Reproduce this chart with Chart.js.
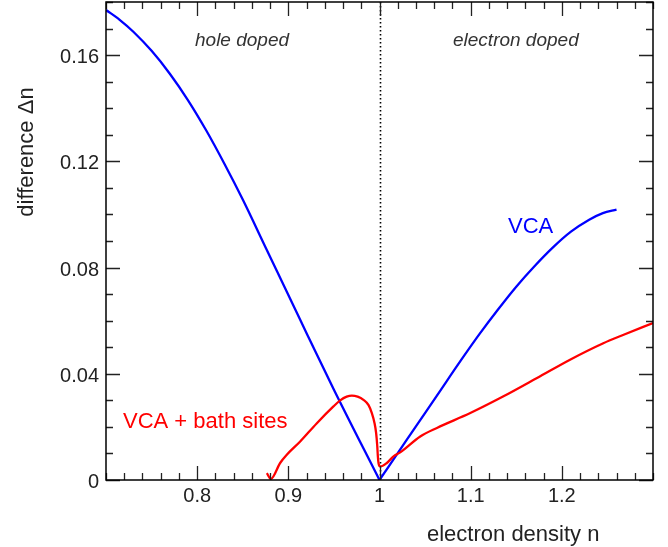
<!DOCTYPE html>
<html>
<head>
<meta charset="utf-8">
<script src="https://cdn.jsdelivr.net/npm/chart.js@4.4.1/dist/chart.umd.min.js"></script>
<style>
  html, body { margin: 0; padding: 0; background: #fff; }
  #wrap { width: 668px; height: 547px; position: relative; }
</style>
</head>
<body>
<div id="wrap"><canvas id="dnChart"></canvas></div>
<script>
// ---- data ----
// VCA, hole doped branch (n < 1)
const vcaHoleN  = [0.700, 0.715, 0.730, 0.750, 0.770, 0.790, 0.810, 0.830, 0.850, 0.876, 0.913, 0.950, 1.000];
const vcaHoleDn = [0.177, 0.1733, 0.1688, 0.1616, 0.1530, 0.1430, 0.1316, 0.1190, 0.1056, 0.0869, 0.0603, 0.0340, 0.000];
// VCA, electron doped branch (n > 1)
const vcaElecN  = [1.000, 1.030, 1.063, 1.090, 1.110, 1.130, 1.150, 1.170, 1.190, 1.210, 1.230, 1.245, 1.260];
const vcaElecDn = [0.000, 0.0152, 0.0318, 0.0454, 0.0551, 0.0642, 0.0728, 0.0805, 0.0875, 0.0935, 0.0980, 0.1005, 0.1018];
// VCA + bath sites
const bathN  = [0.8764, 0.8808, 0.891, 0.8983, 0.913, 0.9313, 0.9495, 0.9569, 0.964, 0.9697, 0.976, 0.9824, 0.988, 0.9916,
                0.9945, 0.9963, 0.9975, 0.9982, 0.999, 1.0008, 1.008, 1.0154, 1.0227, 1.0447, 1.063, 1.0996, 1.136,
                1.1728, 1.209, 1.2455, 1.2678, 1.300];
const bathDn = [0.0026, 0.0004, 0.0064, 0.0095, 0.0145, 0.0214, 0.0277, 0.0300, 0.0314, 0.0318, 0.0314, 0.0302, 0.0282, 0.0252,
                0.0215, 0.0177, 0.0130, 0.0089, 0.0062, 0.0051, 0.0064, 0.0089, 0.0104, 0.0164, 0.0196, 0.0252, 0.0315,
                0.0384, 0.0453, 0.0515, 0.0547, 0.0591];

// axis ticks
const xTickVals   = [0.8, 0.9, 1, 1.1, 1.2];
const xTickLabels = ['0.8', '0.9', '1', '1.1', '1.2'];
const yTickVals   = [0, 0.04, 0.08, 0.12, 0.16];
const yTickLabels = ['0', '0.04', '0.08', '0.12', '0.16'];

const pts = (xs, ys) => xs.map((x, i) => ({ x: x, y: ys[i] }));
const FONT = '"Liberation Sans", Arial, Helvetica, sans-serif';

// frame, inward ticks on all sides, labels and annotations
const framePlugin = {
  id: 'frame',
  beforeDatasetsDraw(chart) {
    const { ctx, chartArea: a, scales: { x } } = chart;
    const px = Math.round(x.getPixelForValue(1)) + 0.5;
    ctx.save();
    ctx.strokeStyle = '#000';
    ctx.lineWidth = 1.6;
    ctx.setLineDash([1.6, 2.4]);
    ctx.beginPath();
    ctx.moveTo(px, a.top);
    ctx.lineTo(px, a.bottom);
    ctx.stroke();
    ctx.restore();
  },
  afterDatasetsDraw(chart) {
    const { ctx, chartArea: a, scales: { x, y } } = chart;
    ctx.save();
    ctx.strokeStyle = '#222';
    ctx.lineWidth = 1.3;
    ctx.beginPath();
    // x minor ticks every 0.02, major at labelled values
    for (let i = 35; i <= 65; i++) {
      const v = i / 50;
      const major = xTickVals.some(t => Math.abs(t - v) < 1e-6);
      const len = major ? 14 : 7;
      const p = Math.round(x.getPixelForValue(v)) + 0.5;
      ctx.moveTo(p, a.bottom); ctx.lineTo(p, a.bottom - len);
      ctx.moveTo(p, a.top); ctx.lineTo(p, a.top + len);
    }
    // y minor ticks every 0.01
    for (let i = 0; i <= 18; i++) {
      const v = i / 100;
      const major = yTickVals.some(t => Math.abs(t - v) < 1e-6);
      const len = major ? 14 : 7;
      const p = Math.round(y.getPixelForValue(v)) + 0.5;
      ctx.moveTo(a.left, p); ctx.lineTo(a.left + len, p);
      ctx.moveTo(a.right, p); ctx.lineTo(a.right - len, p);
    }
    ctx.stroke();

    // frame
    ctx.strokeStyle = '#000';
    ctx.lineWidth = 1.5;
    ctx.strokeRect(a.left, a.top, a.right - a.left, a.bottom - a.top);

    // tick labels
    ctx.fillStyle = '#222';
    ctx.font = '20px ' + FONT;
    ctx.textAlign = 'center';
    ctx.textBaseline = 'alphabetic';
    xTickVals.forEach((v, i) => ctx.fillText(xTickLabels[i], x.getPixelForValue(v), a.bottom + 22));
    ctx.textAlign = 'right';
    yTickVals.forEach((v, i) => ctx.fillText(yTickLabels[i], a.left - 7, y.getPixelForValue(v) + 8));

    // axis titles
    ctx.font = '22px ' + FONT;
    ctx.textAlign = 'left';
    ctx.fillText('electron density n', 427, 541);
    ctx.save();
    ctx.translate(33, 152);
    ctx.rotate(-Math.PI / 2);
    ctx.textAlign = 'center';
    ctx.fillText('difference \u0394n', 0, 0);
    ctx.restore();

    // region labels
    ctx.font = 'italic 19px ' + FONT;
    ctx.fillStyle = '#333';
    ctx.textAlign = 'left';
    ctx.fillText('hole doped', 195, 46);
    ctx.fillText('electron doped', 453, 46);

    // curve labels
    ctx.font = '22px ' + FONT;
    ctx.fillStyle = '#0000ff';
    ctx.fillText('VCA', 508, 233);
    ctx.fillStyle = '#ff0000';
    ctx.fillText('VCA + bath sites', 123, 428);
    ctx.restore();
  }
};

const lineStyle = {
  showLine: true,
  pointRadius: 0,
  borderWidth: 2.3,
  fill: false,
  cubicInterpolationMode: 'monotone'
};

new Chart(document.getElementById('dnChart'), {
  type: 'scatter',
  data: {
    datasets: [
      Object.assign({ label: 'VCA + bath sites', data: pts(bathN, bathDn), borderColor: '#ff0000' }, lineStyle),
      Object.assign({ label: 'VCA', data: pts(vcaHoleN, vcaHoleDn), borderColor: '#0000ff' }, lineStyle),
      Object.assign({ label: 'VCA ', data: pts(vcaElecN, vcaElecDn), borderColor: '#0000ff' }, lineStyle)
    ]
  },
  options: {
    responsive: true,
    maintainAspectRatio: false,
    animation: false,
    devicePixelRatio: 1,
    layout: { padding: { left: 106, right: 15, top: 2, bottom: 67 } },
    plugins: { legend: { display: false }, tooltip: { enabled: false } },
    scales: {
      x: { type: 'linear', min: 0.7, max: 1.3, display: false },
      y: { type: 'linear', min: 0, max: 0.18, display: false }
    }
  },
  plugins: [framePlugin]
});
</script>
</body>
</html>
